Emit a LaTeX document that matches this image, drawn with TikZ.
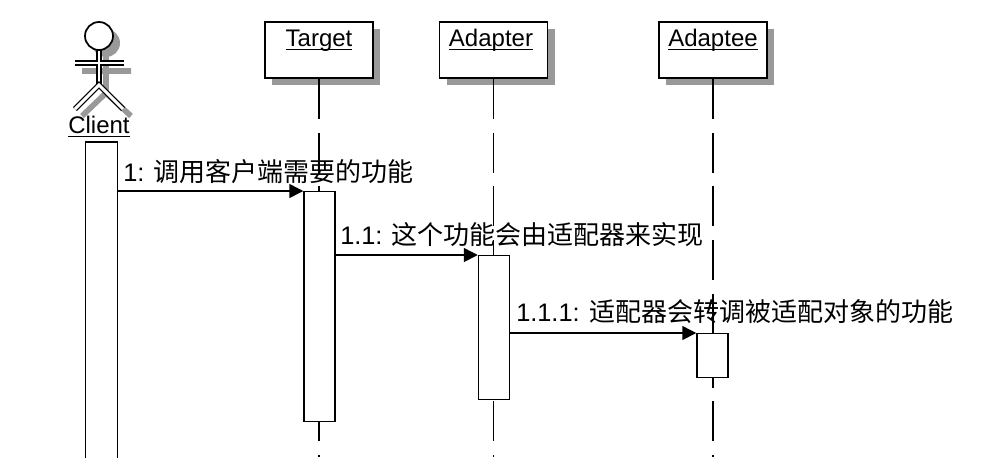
\documentclass[tikz,border=0pt]{standalone}
\usepackage{fontspec}
\setmainfont{Liberation Sans}
\newfontfamily\cjk{Noto Sans CJK SC}
\usetikzlibrary{positioning,arrows.meta,shadows}
\definecolor{shadowgray}{HTML}{999999}
\newcommand{\umlname}[1]{\sbox0{#1}\rlap{\usebox0}\rule[-3.2pt]{\wd0}{1.1pt}}
\tikzset{
	umlline/.style={line width=1.3pt},
	headbox/.style={draw,umlline,fill=white,minimum width=81pt,minimum height=42pt,inner sep=0pt,
		drop shadow={shadow xshift=5.25pt,shadow yshift=-5.6pt,fill=shadowgray,opacity=1}},
	headname/.style={anchor=base,inner sep=0pt,font=\fontsize{18}{20}\selectfont},
	msgname/.style={anchor=base west,inner sep=0pt,font=\fontsize{19}{20}\selectfont},
	actbar/.style={draw,line width=1.1pt,fill=white,minimum width=23.25pt,inner sep=0pt,anchor=north},
	lifeline/.style={umlline,dash pattern=on 30pt off 10.3pt},
	call/.style={line width=1.1pt,-{Triangle[length=10.5pt,width=10.5pt]}},
	actorlimb/.style={draw=black,line width=1pt,double=white,double distance=2.2pt},
	actorshade/.style={draw=shadowgray,line width=4.2pt}
}

\begin{document}
\begin{tikzpicture}[x=0.75pt,y=-0.75pt]
\useasboundingbox (0,0) rectangle (988,469);

% actor shadow
\fill[shadowgray] (106,43) circle (14);
\draw[actorshade] (82,71) -- (131,71) (106,57) -- (106,93) (82,116) -- (106,93) -- (131,116);

% actor
\draw[actorlimb] (99,50) -- (99,85);
\draw[actorlimb] (75,109) -- (99,85) -- (123,109);
\draw[actorlimb] (75,63) -- (124,63);
\draw[line width=1pt,white] (99,58) -- (99,68);
\node[circle,draw,umlline,fill=white,minimum size=21pt,inner sep=0pt] (clienthead) at (99,36) {};
\node[headname] (clientname) at (99,133) {\umlname{Client}};

% heads
\node[headbox] (target) at (319,50) {};
\node[headbox] (adapter) at (493.5,50) {};
\node[headbox] (adaptee) at (713,50) {};
\node[headname] (targetname) at (319,46) {\umlname{Target}};
\node[headname] (adaptername) at (491,46) {\umlname{Adapter}};
\node[headname] (adapteename) at (713,46) {\umlname{Adaptee}};

% lifelines
\coordinate (targetend) at (target.south |- 0,457);
\coordinate (adapterend) at (adapter.south |- 0,457);
\coordinate (adapteeend) at (adaptee.south |- 0,457);
\draw[lifeline] (target.south) -- (targetend);
\draw[lifeline] (adapter.south) -- (adapterend);
\draw[lifeline] (adaptee.south) -- (adapteeend);

% activation bars
\node[actbar,draw=none,fill=none,minimum height=236.25pt] (clientbar) at (101.5,142) {};
\draw[line width=1.1pt] (clientbar.south west) |- (clientbar.north east) -- (clientbar.south east);
\node[actbar,minimum height=172.5pt] (targetbar) at (319.5,191) {};
\node[actbar,minimum height=108pt] (adapterbar) at (494,255) {};
\node[actbar,minimum height=33pt] (adapteebar) at (712.5,333) {};

% calls
\draw[call] (targetbar.north west -| clientbar.east) -- (targetbar.north west);
\draw[call] (adapterbar.north west -| targetbar.east) -- (adapterbar.north west);
\draw[call] (adapteebar.north west -| adapterbar.east) -- (adapteebar.north west);

% labels
\node[msgname] (msga) at (123,181) {1: {\cjk\fontsize{19.5}{20}\selectfont 调用客户端需要的功能}};
\node[msgname] (msgb) at (340,244) {1.1: {\cjk\fontsize{19.5}{20}\selectfont 这个功能会由适配器来实现}};
\node[msgname] (msgc) at (516,321) {1.1.1: {\cjk\fontsize{19.5}{20}\selectfont 适配器会转调被适配对象的功能}};
\end{tikzpicture}
\end{document}
